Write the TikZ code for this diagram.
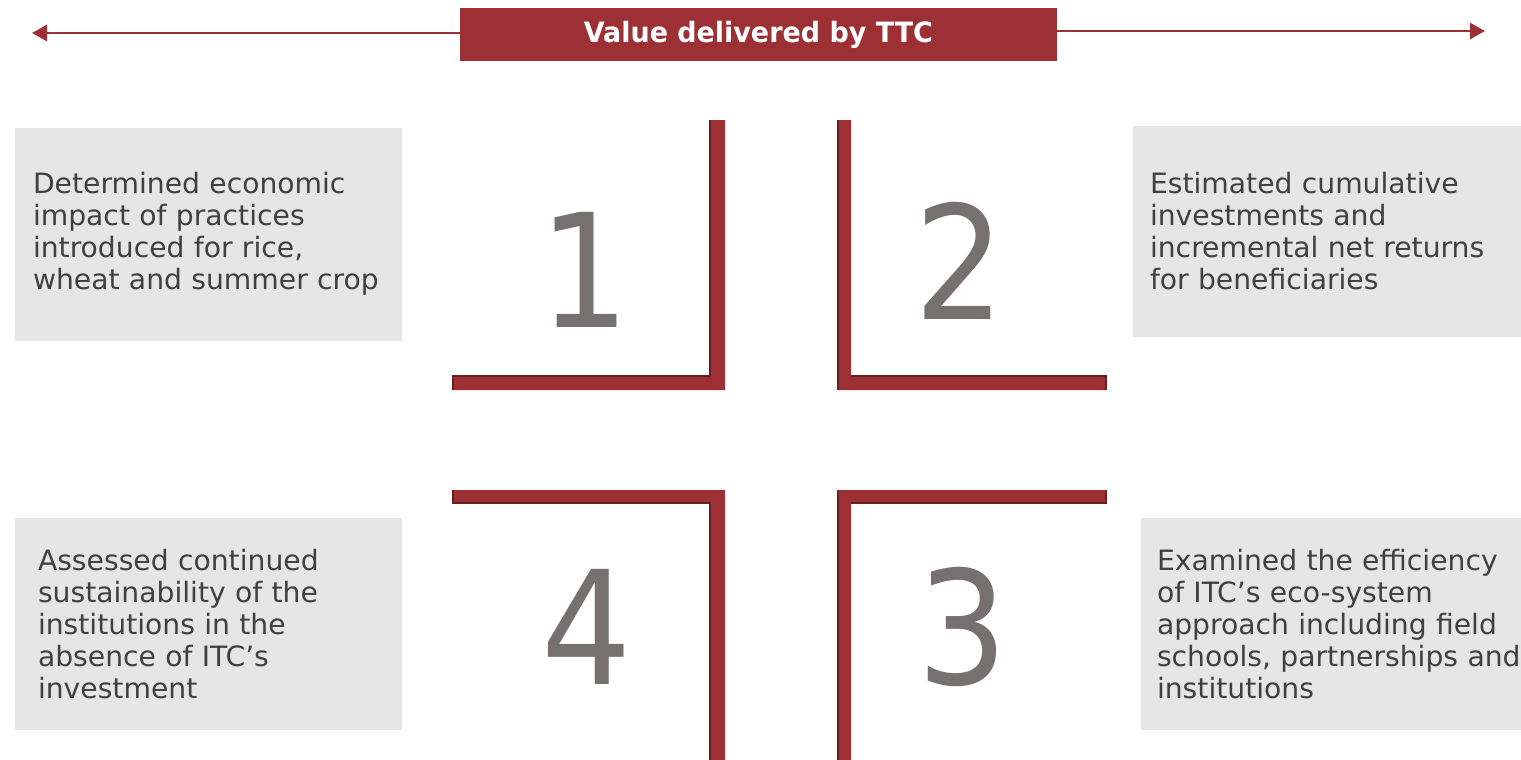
\documentclass[tikz,border=0pt]{standalone}
\usepackage{fontspec}
\usepackage{xcolor}
\usetikzlibrary{arrows.meta}
\setmainfont[FakeStretch=1.12]{DejaVu Sans Condensed}
\newfontfamily\titlefont[FakeStretch=1.07]{DejaVu Sans Condensed Bold}
\newfontfamily\digitfont{DejaVu Sans Condensed}
\definecolor{ttcred}{HTML}{9C3034}
\definecolor{ttcdark}{HTML}{6B1E21}
\definecolor{boxgrey}{HTML}{E6E6E6}
\definecolor{textgrey}{HTML}{404040}
\definecolor{digitgrey}{HTML}{767170}
\tikzset{
  valuebox/.style={fill=boxgrey, text=textgrey, align=left, inner xsep=18pt,
    font=\fontsize{28}{32}\selectfont},
  bignum/.style={text=digitgrey, anchor=base, inner sep=0pt,
    font=\digitfont\fontsize{158}{158}\selectfont},
  bar/.style={fill=ttcred},
  baredge/.style={draw=ttcdark, line width=1.5pt}
}

\begin{document}
\begin{tikzpicture}[x=1pt,y=-1pt]
\useasboundingbox (0,0) rectangle (1521,760);

% Draw the title banner and its arrows
\node[fill=ttcred, text=white, minimum width=597pt, minimum height=53pt,
  font=\titlefont\fontsize{28}{32}\selectfont] (title) at (758.5,34.5) {\raisebox{-2pt}{Value delivered by TTC}};
\coordinate (lend) at (32,33);
\coordinate (rend) at (1485,31);
\draw[ttcred, line width=2.5pt, -{Triangle[length=15pt,width=16pt]}] (title.west |- 0,33) -- (lend);
\draw[ttcred, line width=2.5pt, -{Triangle[length=15pt,width=16pt]}] (title.east |- 0,31) -- (rend);

% Draw the four grey boxes
\node[valuebox, text width=351pt, minimum height=213pt] (box1) at (208.5,234)
  {Determined economic\\impact of practices\\introduced for rice,\\wheat and summer crop};
\node[valuebox, inner xsep=17pt, text width=354pt, minimum height=211pt] (box2) at (1327,231.5)
  {Estimated cumulative\\investments and\\incremental net returns\\for beneficiaries};
\node[valuebox, inner xsep=16pt, text width=348pt, minimum height=212pt] (box3) at (1331,624)
  {Examined the efficiency\\of ITC's eco-system\\approach including field\\\mbox{schools, partnerships and}\\institutions};
\node[valuebox, inner xsep=23pt, text width=341pt, minimum height=212pt] (box4) at (208.5,624)
  {Assessed continued\\sustainability of the\\institutions in the\\absence of ITC's\\investment};

% Draw the corner brackets
\fill[bar] (453,376) -- (710,376) -- (710,120) -- (725,120) -- (725,390) -- (453,390) -- cycle;
\draw[baredge] (453,390) -- (453,376) -- (710,376) -- (710,120);
\fill[bar] (838,120) -- (851,120) -- (851,376) -- (1106,376) -- (1106,390) -- (838,390) -- cycle;
\draw[baredge] (838,120) -- (838,390);
\draw[baredge] (851,376) -- (1106,376) -- (1106,390);
\fill[bar] (453,490) -- (725,490) -- (725,760) -- (710,760) -- (710,503) -- (453,503) -- cycle;
\draw[baredge] (453,490) -- (453,503) -- (710,503) -- (710,760);
\fill[bar] (838,490) -- (1106,490) -- (1106,503) -- (851,503) -- (851,760) -- (838,760) -- cycle;
\draw[baredge] (838,760) -- (838,490);
\draw[baredge] (851,503) -- (1106,503) -- (1106,490);

% Draw the numbers
\node[bignum] (num1) at (585,327) {1};
\node[bignum] (num2) at (960,319) {2};
\node[bignum] (num3) at (963,684) {3};
\node[bignum] (num4) at (587,684) {4};

\end{tikzpicture}
\end{document}
